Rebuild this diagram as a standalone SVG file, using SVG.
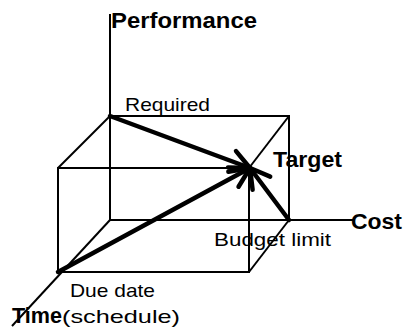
<svg xmlns="http://www.w3.org/2000/svg" width="404" height="329" viewBox="0 0 404 329">
  <style>
    .thin { stroke: #000; stroke-width: 2; fill: none; }
    .thick { stroke: #000; stroke-width: 4.5; fill: none; stroke-linecap: round; marker-end: url(#openHead); }
    text { font-family: "Liberation Sans", Arial, sans-serif; fill: #000; }
    .b { font-weight: bold; font-size: 22px; }
    .n { font-size: 19px; }
  </style>
  <defs>
    <marker id="openHead" markerUnits="userSpaceOnUse" markerWidth="30" markerHeight="30" viewBox="-24 -15 30 30" refX="0" refY="0" orient="auto">
      <path d="M-19,-11 L0,0 L-19,11" fill="none" stroke="#000" stroke-width="4.5" stroke-linecap="round" stroke-linejoin="round"/>
    </marker>
  </defs>

  <!-- axes and box edges -->
  <g id="connectors">
    <!-- performance axis -->
    <line class="thin" x1="110" y1="14" x2="110" y2="220"/>
    <!-- cost axis -->
    <line class="thin" x1="110" y1="220" x2="353" y2="220"/>
    <!-- time axis -->
    <line class="thin" x1="110" y1="220" x2="12" y2="326"/>
    <!-- back face -->
    <polyline class="thin" points="110,116 289,116 289,220"/>
    <!-- front face -->
    <rect class="thin" x="58" y="168" width="191" height="104"/>
    <!-- depth edges -->
    <line class="thin" x1="110" y1="116" x2="58" y2="168"/>
    <line class="thin" x1="289" y1="116" x2="249" y2="168"/>
    <line class="thin" x1="289" y1="220" x2="249" y2="272"/>
    <!-- vectors converging on the target -->
    <line class="thick" x1="110" y1="116" x2="250" y2="168"/>
    <line class="thick" x1="58" y1="272" x2="250" y2="168"/>
    <line class="thick" x1="289" y1="220" x2="250" y2="168"/>
  </g>

  <g id="performance"><text class="b" x="111" y="28" textLength="146" lengthAdjust="spacingAndGlyphs">Performance</text></g>
  <g id="required"><text class="n" x="125" y="111" textLength="85" lengthAdjust="spacingAndGlyphs">Required</text></g>
  <g id="target"><text class="b" x="273" y="167" textLength="69" lengthAdjust="spacingAndGlyphs">Target</text></g>
  <g id="cost"><text class="b" x="351" y="229" textLength="51" lengthAdjust="spacingAndGlyphs">Cost</text></g>
  <g id="budget"><text class="n" x="214" y="246" font-size="20" textLength="117" lengthAdjust="spacingAndGlyphs">Budget limit</text></g>
  <g id="due"><text class="n" x="70" y="297" font-size="18" textLength="85" lengthAdjust="spacingAndGlyphs">Due date</text></g>
  <g id="time">
    <text class="b" x="12" y="323" font-size="23" textLength="50" lengthAdjust="spacingAndGlyphs">Time</text>
    <text class="n" x="62" y="323" font-size="23" textLength="118" lengthAdjust="spacingAndGlyphs">(schedule)</text>
  </g>
</svg>
